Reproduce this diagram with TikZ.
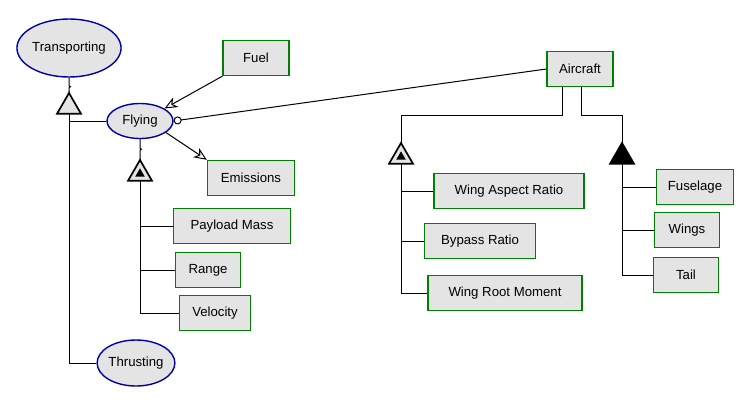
\documentclass[tikz,border=0pt]{standalone}
\usepackage{fontspec}
\setmainfont{Liberation Sans}
\usetikzlibrary{shapes.geometric,arrows.meta}

\definecolor{objgreen}{RGB}{0,128,0}
\definecolor{procblue}{RGB}{0,0,170}
\definecolor{thingfill}{RGB}{228,228,228}

\begin{document}
\begin{tikzpicture}[x=1pt,y=-1pt,
		font=\fontsize{13.2}{15}\selectfont,
		object/.style={draw=objgreen,line width=1.4pt,fill=thingfill,minimum height=35pt,inner sep=2pt},
		process/.style={ellipse,draw=procblue,line width=1.4pt,fill=thingfill,inner sep=0pt},
		tri/.style={regular polygon,regular polygon sides=3,draw=black,line width=1.7pt,fill=thingfill,minimum size=27.7pt,inner sep=0pt,outer sep=0pt,anchor=corner 1},
		dot/.style={regular polygon,regular polygon sides=3,fill=black,minimum size=11pt,inner sep=0pt},
		link/.style={line width=1pt},
		flow/.style={link,-{Stealth[open,length=13pt,width=11pt,inset=4pt,fill=white]}}]
		\useasboundingbox (0,0) rectangle (755,408);
		
		% processes
		\node[process,minimum width=94pt,minimum height=58pt] (transporting) at (69,48) {Transporting};
		\node[process,minimum width=66pt,minimum height=35pt] (flying) at (140,121) {Flying};
		\node[process,minimum width=74pt,minimum height=46pt] (thrusting) at (136,363) {Thrusting};
		
		% objects
		\node[object,minimum width=66pt] (fuel) at (256,58) {Fuel};
		\node[object,minimum width=87pt] (emissions) at (251,178) {Emissions};
		\node[object,minimum width=117pt] (payload) at (232,226) {Payload Mass};
		\node[object,minimum width=65pt] (range) at (208,270) {Range};
		\node[object,minimum width=71pt] (velocity) at (215,313) {Velocity};
		\node[object,minimum width=66pt] (aircraft) at (580,69) {Aircraft};
		\node[object,minimum width=150pt] (aspect) at (509,191) {Wing Aspect Ratio};
		\node[object,minimum width=111pt] (bypass) at (480,241) {Bypass Ratio};
		\node[object,minimum width=154pt] (moment) at (505,293) {Wing Root Moment};
		\node[object,minimum width=77pt] (fuselage) at (695,187) {Fuselage};
		\node[object,minimum width=65pt] (wings) at (687,230) {Wings};
		\node[object,minimum width=65pt] (tail) at (686,275) {Tail};
		
		% structural triangles
		\node[tri] (gen) at (69,93) {};
		\node[tri] (exhflying) at (140,160) {};
		\node[dot] at (exhflying.center) {};
		\node[tri] (exhaircraft) at (401,143) {};
		\node[dot] at (exhaircraft.center) {};
		\node[tri,fill=black] (agg) at (622,143) {};
		
		% generalization
		\draw[link] (transporting.south) -- ++(0,8) -- ++(1.5,1) -- ++(-1.5,1) -- (gen.corner 1);
		\draw[link] (gen.side 2) |- (thrusting.west);
		\draw[link] (flying.west) -- (flying.west -| gen.side 2);
		
		% exhibition of flying
		\draw[link] (flying.south) -- ++(0,9) -- ++(1.5,1) -- ++(-1.5,1) -- (exhflying.corner 1);
		\draw[link] (exhflying.side 2) |- (velocity.west);
		\draw[link] (payload.west) -- (payload.west -| exhflying.side 2);
		\draw[link] (range.west) -- (range.west -| exhflying.side 2);
		
		% procedural links
		\draw[flow] (fuel.south west) -- (flying.27);
		\draw[flow] (flying.-24) -- (emissions.north west);
		\draw[link,{Circle[open,length=8pt,fill=white]}-] (flying.east) -- (aircraft.west);
		
		% aircraft structure
		\draw[link] ([xshift=-18pt]aircraft.south) -- ++(0,28) -| (exhaircraft.corner 1);
		\draw[link] ([xshift=1pt]aircraft.south) -- ++(0,28) -| (agg.corner 1);
		\draw[link] (exhaircraft.side 2) |- (moment.west);
		\draw[link] (aspect.west) -- (aspect.west -| exhaircraft.side 2);
		\draw[link] (bypass.west) -- (bypass.west -| exhaircraft.side 2);
		\draw[link] (agg.side 2) |- (tail.west);
		\draw[link] (fuselage.west) -- (fuselage.west -| agg.side 2);
		\draw[link] (wings.west) -- (wings.west -| agg.side 2);
	\end{tikzpicture}
\end{document}
